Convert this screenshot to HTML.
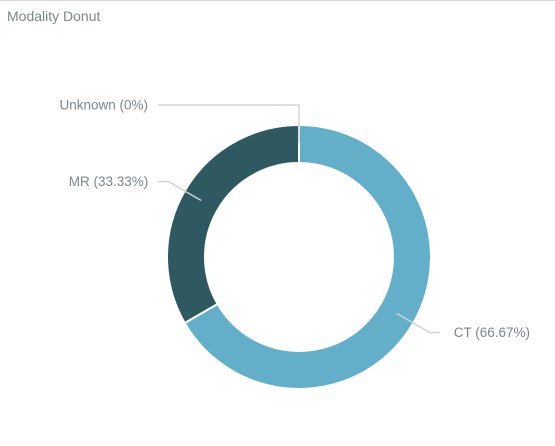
<!DOCTYPE html>
<html><head><meta charset="utf-8"><style>
body{margin:0;width:555px;height:446px;background:#fff;overflow:hidden;font-family:"Liberation Sans",sans-serif}
#top{position:absolute;left:0;top:0;width:555px;height:1px;background:#d8d8d8}
#title{position:absolute;left:7px;top:8px;font-size:14px;color:#7b878c}
svg{position:absolute;left:0;top:0}
</style></head><body>
<div id="top"></div>
<div id="title">Modality Donut</div>
<svg id="chart" width="555" height="446"></svg>
<script>
const categories=["CT","MR","Unknown"];
const values=[66.67,33.33,0];
const labels=["CT (66.67%)","MR (33.33%)","Unknown (0%)"];
const colors=["#63afc9","#2f5960","#63afc9"];
const svg=document.getElementById('chart');
const NS="http://www.w3.org/2000/svg";
const cx=299,cy=257,R=132,r=94;
const total=values.reduce((a,b)=>a+b,0);
function pt(a,rad){return [cx+rad*Math.sin(a),cy-rad*Math.cos(a)];}
let a0=0;
const mids=[];
values.forEach((v,i)=>{
  const a1=a0+v/total*2*Math.PI;
  mids.push((a0+a1)/2);
  if(v>0){
    const large=(a1-a0)>Math.PI?1:0;
    const [x0,y0]=pt(a0,R),[x1,y1]=pt(a1,R),[x2,y2]=pt(a1,r),[x3,y3]=pt(a0,r);
    const p=document.createElementNS(NS,'path');
    p.setAttribute('d',`M${x0},${y0}A${R},${R} 0 ${large} 1 ${x1},${y1}L${x2},${y2}A${r},${r} 0 ${large} 0 ${x3},${y3}Z`);
    p.setAttribute('fill',colors[i]);p.setAttribute('stroke','#fff');p.setAttribute('stroke-width','2');
    
    
    svg.appendChild(p);
  }
  a0=a1;
});
mids.forEach((m,i)=>{
  const [px,py]=pt(m,(R+r)/2);
  let d,tx,ty,anchor;
  if(values[i]===0){
    d=`M${px},${cy-R+18}L${px},${cy-152}L158,${cy-152}`;tx=148;ty=cy-152;anchor='end';
  }else{
    const right=Math.sin(m)>0;
    const [ex,ey]=pt(m,R+19);
    const ox=right?ex+10:ex-10;
    d=`M${px},${py}L${ex},${ey}L${ox},${ey}`;
    tx=right?ox+14:ox-10;ty=ey;anchor=right?'start':'end';
  }
  const l=document.createElementNS(NS,'path');
  l.setAttribute('d',d);l.setAttribute('fill','none');l.setAttribute('stroke','#d0d3d6');l.setAttribute('stroke-width','1.5');
  
  
  svg.appendChild(l);
  const t=document.createElementNS(NS,'text');
  t.setAttribute('x',tx);t.setAttribute('y',ty+4.5);t.setAttribute('text-anchor',anchor);
  t.setAttribute('font-size','13.5');t.setAttribute('fill','#7b878c');
  t.setAttribute('font-family','Liberation Sans, sans-serif');
  t.textContent=labels[i];
  
  
  svg.appendChild(t);
});
</script>
</body></html>
